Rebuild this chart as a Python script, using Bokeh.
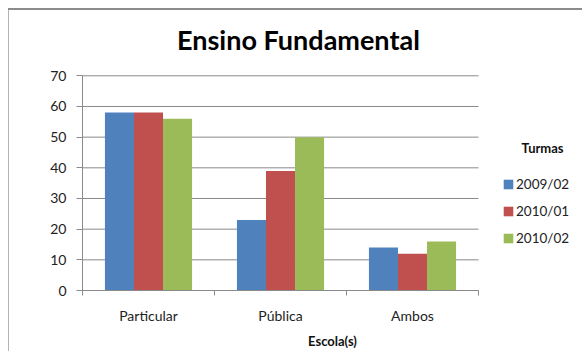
from bokeh.plotting import figure
from bokeh.models import Range1d, FixedTicker, Legend, LegendItem, Label, ColumnDataSource
from bokeh.embed import file_html
from bokeh.resources import INLINE

# ---- data ----
categories = ["Particular", "Pública", "Ambos"]
series_names = ["2009/02", "2010/01", "2010/02"]
v_2009_02 = [58, 23, 14]
v_2010_01 = [58, 39, 12]
v_2010_02 = [56, 50, 16]
series_values = [v_2009_02, v_2010_01, v_2010_02]
colors = ["#4F81BD", "#C0504D", "#9BBB59"]
y_ticks = [0, 10, 20, 30, 40, 50, 60, 70]
title_text = "Ensino Fundamental"
x_title = "Escola(s)"
legend_title = "Turmas"

FONT = "Lato"
n = len(categories)
y_max = y_ticks[-1]
bw = 0.22

# frame spans to the right/top edges so the title and legend are not clipped;
# the category area covers x in [0, n], values cover y in [0, y_max]
p = figure(width=582, height=351, output_backend="svg", toolbar_location=None,
           x_range=Range1d(0, n * 500 / 396), y_range=Range1d(0, y_max * 290 / 214.7),
           min_border_left=82, min_border_right=0, min_border_top=0, min_border_bottom=61)
p.border_fill_color = None
p.background_fill_color = None
p.outline_line_color = None
p.styles = {"background": "linear-gradient(#8c8c8c,#8c8c8c) 8px 8px / 100% 2px no-repeat, "
                          "linear-gradient(#b4b4b4,#b4b4b4) 8px 8px / 1px 100% no-repeat, #ffffff"}

gray = "#8a8a8a"

# horizontal gridlines limited to the category area
p.segment(x0=[0] * len(y_ticks), x1=[n] * len(y_ticks), y0=y_ticks, y1=y_ticks,
          line_color=gray, line_width=1)

renderers = []
for j, (name, vals) in enumerate(zip(series_names, series_values)):
    xs = [i + 0.5 + (j - 1) * bw for i in range(n)]
    src = ColumnDataSource(dict(x=xs, top=vals))
    r = p.vbar(x="x", top="top", width=bw, bottom=0, source=src,
               fill_color=colors[j], line_color=None)
    renderers.append(r)

# axes
p.xaxis.bounds = (0, n)
p.xaxis.ticker = FixedTicker(ticks=[i + 0.5 for i in range(n)], minor_ticks=list(range(n + 1)))
p.xaxis.major_label_overrides = {i + 0.5: c for i, c in enumerate(categories)}
p.xaxis.major_tick_line_color = None
p.xaxis.major_tick_out = 0
p.xaxis.major_tick_in = 0
p.xaxis.minor_tick_line_color = gray
p.xaxis.minor_tick_out = 5
p.xaxis.minor_tick_in = 0
p.xaxis.axis_line_color = gray
p.xaxis.major_label_text_font = FONT
p.xaxis.major_label_text_font_size = "14px"
p.xaxis.major_label_text_color = "#222222"
p.xaxis.major_label_standoff = 11
p.xaxis.axis_label = x_title
p.xaxis.axis_label_text_font = FONT
p.xaxis.axis_label_text_font_style = "bold"
p.xaxis.axis_label_text_font_size = "13px"
p.xaxis.axis_label_text_color = "#111111"
p.xaxis.axis_label_standoff = 6

p.yaxis.bounds = (0, y_max)
p.yaxis.ticker = FixedTicker(ticks=y_ticks)
p.yaxis.major_tick_line_color = gray
p.yaxis.major_tick_out = 6
p.yaxis.major_tick_in = 0
p.yaxis.minor_tick_line_color = None
p.yaxis.axis_line_color = gray
p.yaxis.major_label_text_font = FONT
p.yaxis.major_label_text_font_size = "14px"
p.yaxis.major_label_text_color = "#222222"
p.yaxis.major_label_standoff = 10

p.xgrid.grid_line_color = None
p.ygrid.grid_line_color = None

# title
p.add_layout(Label(x=1.636, y=81.9, text=title_text, text_font=FONT, text_font_style="bold",
                   text_font_size="27px", text_align="center", text_baseline="alphabetic",
                   text_color="#000000"))

# legend title
p.add_layout(Label(x=3.485, y=46.6, text=legend_title, text_font=FONT, text_font_style="bold",
                   text_font_size="13px", text_align="center", text_baseline="middle",
                   text_color="#111111"))

# legend
legend = Legend(items=[LegendItem(label=nm, renderers=[r]) for nm, r in zip(series_names, renderers)],
                location=(420, 44))
legend.label_text_font = FONT
legend.label_text_font_size = "13.5px"
legend.label_text_color = "#222222"
legend.glyph_width = 12
legend.glyph_height = 12
legend.label_height = 12
legend.label_standoff = 2
legend.spacing = 11
legend.padding = 0
legend.margin = 0
legend.border_line_color = None
legend.background_fill_alpha = 0
p.add_layout(legend, "center")

open("out.html", "w").write(file_html(p, INLINE))
